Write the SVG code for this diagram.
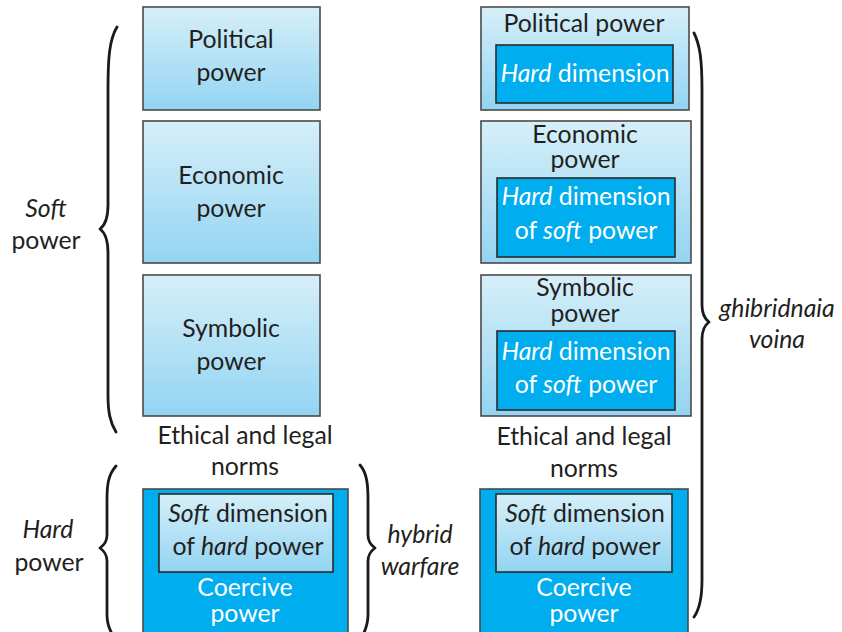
<svg xmlns="http://www.w3.org/2000/svg" width="842" height="632" viewBox="0 0 842 632">
  <defs>
    <linearGradient id="lightFill" x1="0" y1="0" x2="0" y2="1">
      <stop offset="0" stop-color="#d6eff9"/>
      <stop offset="1" stop-color="#93d4f2"/>
    </linearGradient>
    <style>
      .light { fill: url(#lightFill); stroke: #4a4a4a; stroke-width: 1.6; }
      .dark { fill: #00adee; stroke: #4a4a4a; stroke-width: 1.6; }
      .darkIn { fill: #00adee; stroke: #2a2a2a; stroke-width: 1.6; }
      .lightIn { fill: url(#lightFill); stroke: #2a2a2a; stroke-width: 1.6; }
      text { font-family: Lato, "Open Sans", sans-serif; font-size: 24.8px; text-anchor: middle; fill: #231f20; }
      .w { fill: #ffffff; }
      .i { font-style: italic; }
      .brace { fill: none; stroke: #1a1a1a; stroke-width: 2.8; stroke-linecap: round; stroke-linejoin: round; }
    </style>
  </defs>

  <!-- left column: soft power -->
  <g id="political-left">
    <rect class="light" x="143" y="7" width="177" height="103"/>
    <text x="231" y="48">Political</text>
    <text x="231" y="81">power</text>
  </g>
  <g id="economic-left">
    <rect class="light" x="143" y="121" width="177" height="142"/>
    <text x="231" y="184">Economic</text>
    <text x="231" y="217">power</text>
  </g>
  <g id="symbolic-left">
    <rect class="light" x="143" y="275" width="177" height="141"/>
    <text x="231" y="337">Symbolic</text>
    <text x="231" y="370">power</text>
  </g>
  <g id="norms-left">
    <text x="245" y="444">Ethical and legal</text>
    <text x="245" y="475">norms</text>
  </g>
  <g id="coercive-left">
    <rect class="dark" x="143" y="489" width="205" height="150"/>
    <rect class="lightIn" x="159" y="494" width="174" height="78"/>
    <text x="248" y="522"><tspan class="i">Soft</tspan> dimension</text>
    <text x="248" y="555">of <tspan class="i">hard</tspan> power</text>
    <text class="w" x="245" y="596">Coercive</text>
    <text class="w" x="245" y="622">power</text>
  </g>

  <!-- right column: ghibridnaia voina -->
  <g id="political-right">
    <rect class="light" x="481" y="7" width="208" height="103"/>
    <text x="584" y="32">Political power</text>
    <rect class="darkIn" x="496" y="45" width="177" height="58"/>
    <text class="w" x="585" y="82"><tspan class="i">Hard</tspan> dimension</text>
  </g>
  <g id="economic-right">
    <rect class="light" x="481" y="121" width="210" height="142"/>
    <text x="585" y="143">Economic</text>
    <text x="585" y="168">power</text>
    <rect class="darkIn" x="497" y="178" width="178" height="79"/>
    <text class="w" x="586" y="205"><tspan class="i">Hard</tspan> dimension</text>
    <text class="w" x="586" y="239">of <tspan class="i">soft</tspan> power</text>
  </g>
  <g id="symbolic-right">
    <rect class="light" x="481" y="275" width="210" height="141"/>
    <text x="585" y="296">Symbolic</text>
    <text x="585" y="322">power</text>
    <rect class="darkIn" x="497" y="331" width="178" height="79"/>
    <text class="w" x="586" y="360"><tspan class="i">Hard</tspan> dimension</text>
    <text class="w" x="586" y="393">of <tspan class="i">soft</tspan> power</text>
  </g>
  <g id="norms-right">
    <text x="584" y="445">Ethical and legal</text>
    <text x="584" y="477">norms</text>
  </g>
  <g id="coercive-right">
    <rect class="dark" x="480" y="489" width="208" height="150"/>
    <rect class="lightIn" x="496" y="494" width="176" height="78"/>
    <text x="585" y="522"><tspan class="i">Soft</tspan> dimension</text>
    <text x="585" y="555">of <tspan class="i">hard</tspan> power</text>
    <text class="w" x="584" y="596">Coercive</text>
    <text class="w" x="584" y="622">power</text>
  </g>

  <!-- side labels -->
  <g id="soft-power-label">
    <text class="i" x="46" y="217">Soft</text>
    <text x="46" y="249">power</text>
  </g>
  <g id="hard-power-label">
    <text class="i" x="48" y="538">Hard</text>
    <text x="49" y="571">power</text>
  </g>
  <g id="hybrid-warfare-label">
    <text class="i" x="420" y="543">hybrid</text>
    <text class="i" x="420" y="575">warfare</text>
  </g>
  <g id="ghibridnaia-label">
    <text class="i" x="777" y="317">ghibridnaia</text>
    <text class="i" x="777" y="348">voina</text>
  </g>

  <!-- braces -->
  <g id="connectors">
    <path class="brace" d="M117,27 C109,40 108,60 108,90 L108,205 C108,220 104,226 100,229 C104,232 108,238 108,253 L108,395 C108,412 110,422 116,432"/>
    <path class="brace" d="M116,466 C108,475 107,485 107,500 L107,535 C107,542 104,545 100,548 C104,551 107,554 107,561 L107,615 C107,625 110,632 116,640"/>
    <path class="brace" d="M360,465 C367,473 368,485 368,500 L368,535 C368,542 371,545 375,548 C371,551 368,554 368,561 L368,615 C368,625 365,632 360,640"/>
    <path class="brace" d="M694,33 C700,45 702,60 702,90 L702,305 C702,315 705,319 709,322 C705,325 702,329 702,339 L702,580 C702,600 699,610 694,617"/>
  </g>
</svg>
